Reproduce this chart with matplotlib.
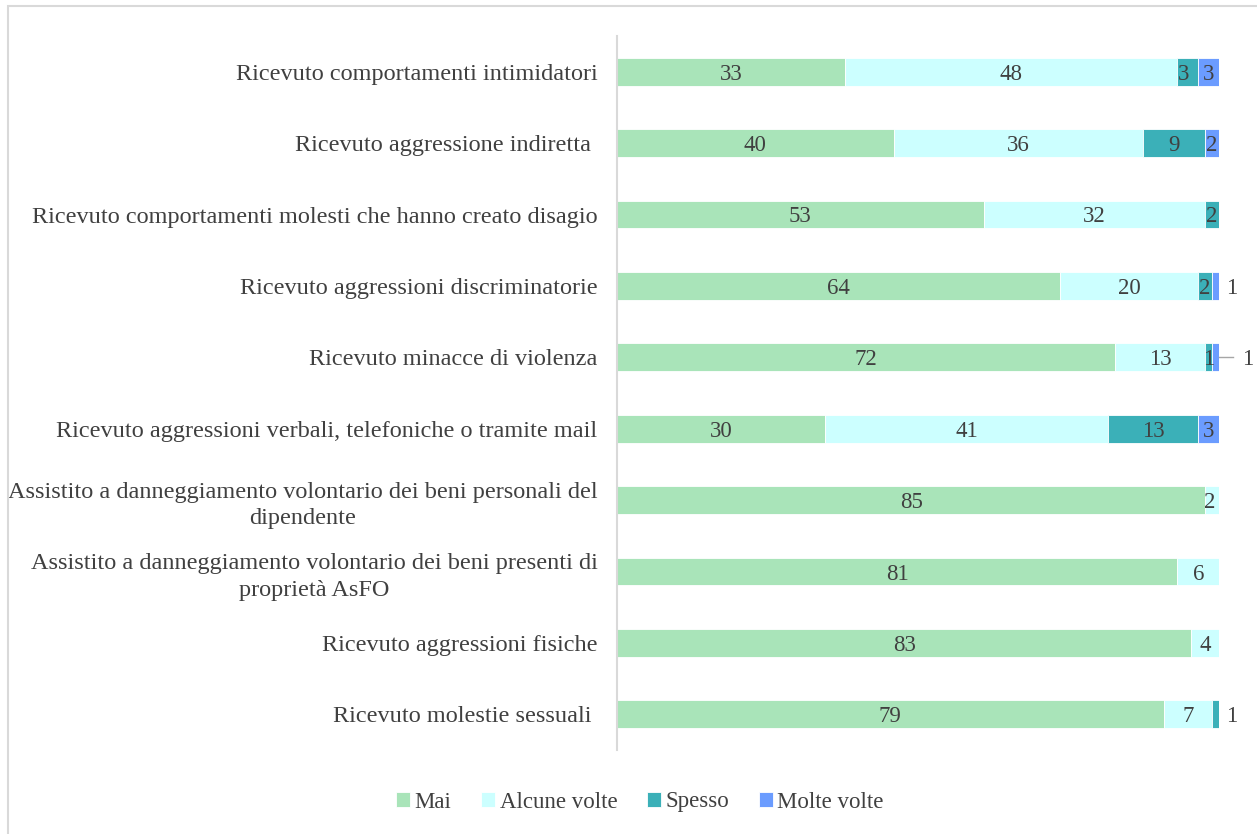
import numpy as np
import matplotlib
matplotlib.use("Agg")
from matplotlib import pyplot as plt
from matplotlib.patches import Rectangle

categories = [
    "Ricevuto comportamenti intimidatori",
    "Ricevuto aggressione indiretta ",
    "Ricevuto comportamenti molesti che hanno creato disagio",
    "Ricevuto aggressioni discriminatorie",
    "Ricevuto minacce di violenza",
    "Ricevuto aggressioni verbali, telefoniche o tramite mail",
    "Assistito a danneggiamento volontario dei beni personali del\ndipendente",
    "Assistito a danneggiamento volontario dei beni presenti di\npropriet\u00e0 AsFO",
    "Ricevuto aggressioni fisiche",
    "Ricevuto molestie sessuali ",
]
mai = [33, 40, 53, 64, 72, 30, 85, 81, 83, 79]
alcune_volte = [48, 36, 32, 20, 13, 41, 2, 6, 4, 7]
spesso = [3, 9, 2, 2, 1, 13, 0, 0, 0, 1]
molte_volte = [3, 2, 0, 1, 1, 3, 0, 0, 0, 0]

series = [
    ("Mai", mai, "#a9e4b9"),
    ("Alcune volte", alcune_volte, "#ccffff"),
    ("Spesso", spesso, "#3bb0b8"),
    ("Molte volte", molte_volte, "#6b9cff"),
]

plt.rcParams['font.family'] = ['Liberation Serif', 'DejaVu Serif']
txt_color = "#404040"
num_fs = 16.5

fig = plt.figure(figsize=(12.57, 8.34), dpi=100)
W, H = 1257, 834
ax = fig.add_axes([617 / W, 1 - 750 / H, (1219 - 617) / W, (750 - 36) / H])

# outer border of the chart area
fig.patches.append(Rectangle((8 / W, -0.1), 1.2, 1 - 6 / H + 0.1, transform=fig.transFigure,
                             fill=False, edgecolor="#d9d9d9", linewidth=1.5))


def label(x, yy, s, ha="center"):
    ax.text(x, yy, s, ha=ha, va="center_baseline", fontsize=num_fs, color=txt_color)


y = np.arange(len(categories))
left = np.zeros(len(categories))
for name, vals, color in series:
    vals = np.array(vals, dtype=float)
    ax.barh(y, vals, left=left, height=0.39, color=color, label=name,
            edgecolor="white", linewidth=0.6)
    for i, v in enumerate(vals):
        if v <= 0:
            continue
        # small values that don't fit are written outside, right of the bar
        if name == "Molte volte" and i == 3:
            label(88.0, i, "1", ha="left")
        elif name == "Molte volte" and i == 4:
            ax.plot([87.05, 89.0], [i, i], color="#a6a6a6", lw=1, clip_on=False)
            label(90.3, i, "1", ha="left")
        elif name == "Spesso" and i == 9:
            label(88.0, i, "1", ha="left")
        elif name == "Alcune volte" and i == 6:
            label(left[i] - 0.1, i, "2", ha="left")
        elif name == "Spesso" and i == 4:
            label(left[i] - 0.3, i, "1", ha="left")
        elif name == "Spesso" and i in (0, 3):
            label(left[i] + 0.05, i, f"{int(v)}", ha="left")
        else:
            label(left[i] + v / 2, i, f"{int(v)}")
    left += vals

ax.set_xlim(0, 87)
ax.set_ylim(9.5, -0.5)
ax.set_yticks(y)
ax.set_yticklabels(categories, fontsize=17.5, color=txt_color, multialignment="center",
                   linespacing=1.35)
ax.tick_params(axis="y", length=0, pad=14)
ax.set_xticks([])
for s in ["top", "right", "bottom"]:
    ax.spines[s].set_visible(False)
ax.spines["left"].set_color("#d9d9d9")
ax.spines["left"].set_linewidth(1.5)

leg = fig.legend(loc="center", bbox_to_anchor=(640 / W, 1 - 802 / H), ncol=4, frameon=False,
                 fontsize=16.5, handlelength=0.6, handleheight=0.6, handletextpad=0.2,
                 columnspacing=1.3)
for t in leg.get_texts():
    t.set_color(txt_color)

fig.savefig("out.png", dpi=100)
